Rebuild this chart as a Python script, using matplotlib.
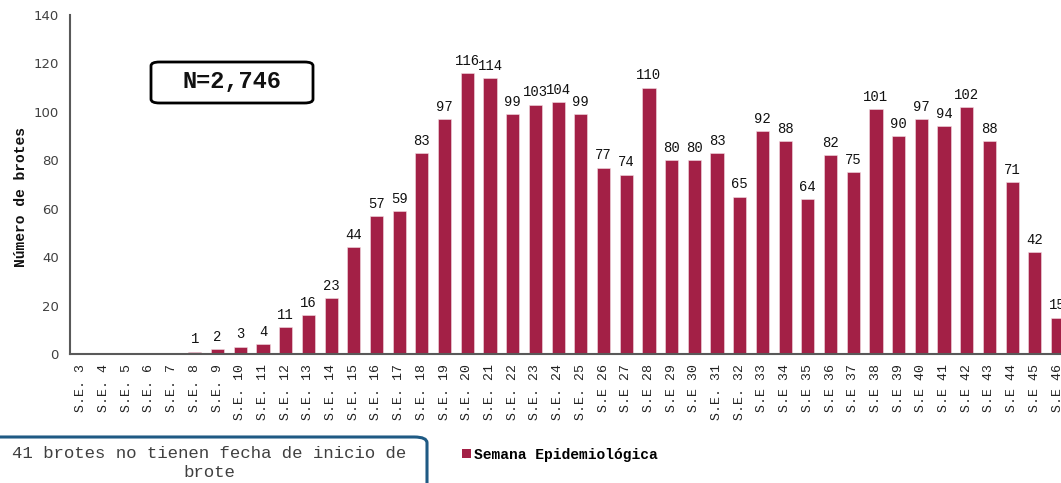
import matplotlib
matplotlib.use("Agg")
import matplotlib.pyplot as plt
from matplotlib.patches import FancyBboxPatch, Patch

# Weekly outbreak counts by epidemiological week (S.E. 3 to S.E. 46)
weeks = list(range(3, 47))
outbreaks = [0, 0, 0, 0, 0, 1, 2, 3, 4, 11, 16, 23, 44, 57, 59, 83, 97, 116,
             114, 99, 103, 104, 99, 77, 74, 110, 80, 80, 83, 65, 92, 88, 64,
             82, 75, 101, 90, 97, 94, 102, 88, 71, 42, 15]
week_labels = ([f"S.E. {w}" for w in range(3, 26)]
               + [f"S.E {w}" for w in range(26, 31)]
               + [f"S.E. {w}" for w in range(31, 33)]
               + [f"S.E {w}" for w in range(33, 47)])
total_text = "N=2,746"
note_text = "41 brotes no tienen fecha de inicio de\nbrote"
legend_label = "Semana Epidemiológica"
y_label = "Número de brotes"
y_ticks = [0, 20, 40, 60, 80, 100, 120, 140]

BAR_COLOR = "#A32046"
MONO = "Liberation Mono"

W, H = 1061, 483
fig = plt.figure(figsize=(W / 100, H / 100), dpi=100)
fig.patch.set_facecolor("white")

ax_left, ax_right = 70 / W, 1.0
ax_bottom, ax_top = 1 - 354 / H, 1 - 15 / H
ax_w = ax_right - ax_left
ax = fig.add_axes([ax_left, ax_bottom, ax_w, ax_top - ax_bottom])

x = list(range(len(weeks)))
ax.bar(x, outbreaks, width=0.58, color=BAR_COLOR,
       edgecolor="#f3dde3", linewidth=0.4, zorder=2)

for xi, v in zip(x, outbreaks):
    if v > 0:
        ax.text(xi, v + 2.2, str(v), ha="center", va="bottom",
                fontfamily=MONO, fontsize=10, color="#111111",
                clip_on=False)

ax.set_xlim(-0.5, 43.15)
ax.set_ylim(0, 140)
ax.set_yticks(y_ticks)
ax.set_yticklabels([str(t) for t in y_ticks], fontfamily="DejaVu Sans",
                   fontsize=9.5, color="#404040")
ax.set_xticks(x)
ax.set_xticklabels(week_labels, rotation=90, fontfamily=MONO, fontsize=9.5,
                   color="#222222")
ax.tick_params(axis="y", length=0, pad=8)
ax.tick_params(axis="x", length=0, pad=7)

for side in ("top", "right"):
    ax.spines[side].set_visible(False)
for side in ("left", "bottom"):
    ax.spines[side].set_color("#595959")
    ax.spines[side].set_linewidth(1.5)

ax.set_ylabel(y_label, fontfamily=MONO, fontweight="bold", fontsize=10.5,
              color="#111111")
ax.yaxis.set_label_coords(-42 / (W * ax_w), (354 - 197) / 339)

# Total count box
nbox = FancyBboxPatch((151 / W, 1 - 103 / H), (313 - 151) / W, (103 - 62) / H,
                      boxstyle="round,pad=0,rounding_size=0.008",
                      transform=fig.transFigure, facecolor="white",
                      edgecolor="black", linewidth=2.0, zorder=5)
fig.patches.append(nbox)
fig.text(232 / W, 1 - 82 / H, total_text, ha="center", va="center",
         fontfamily=MONO, fontweight="bold", fontsize=17, color="#111111",
         zorder=6)

# Note about outbreaks without onset date
note_box = FancyBboxPatch((-20 / W, 1 - 495 / H), (427 + 20) / W, (495 - 437) / H,
                          boxstyle="round,pad=0,rounding_size=0.012",
                          transform=fig.transFigure, facecolor="white",
                          edgecolor="#1F5A84", linewidth=2.2, zorder=5)
fig.patches.append(note_box)
fig.text(209 / W, 1 - 463 / H, note_text, ha="center", va="center",
         fontfamily=MONO, fontsize=12.5, color="#404040", linespacing=1.4,
         zorder=6)

# Legend
handle = Patch(facecolor=BAR_COLOR, edgecolor="none")
fig.legend([handle], [legend_label], loc="center left",
           bbox_to_anchor=(449 / W, 1 - 455 / H), frameon=False,
           handlelength=0.6, handleheight=0.6, handletextpad=0.2,
           prop={"family": MONO, "weight": "bold", "size": 10.5})

fig.savefig("out.png", dpi=100, facecolor="white")
